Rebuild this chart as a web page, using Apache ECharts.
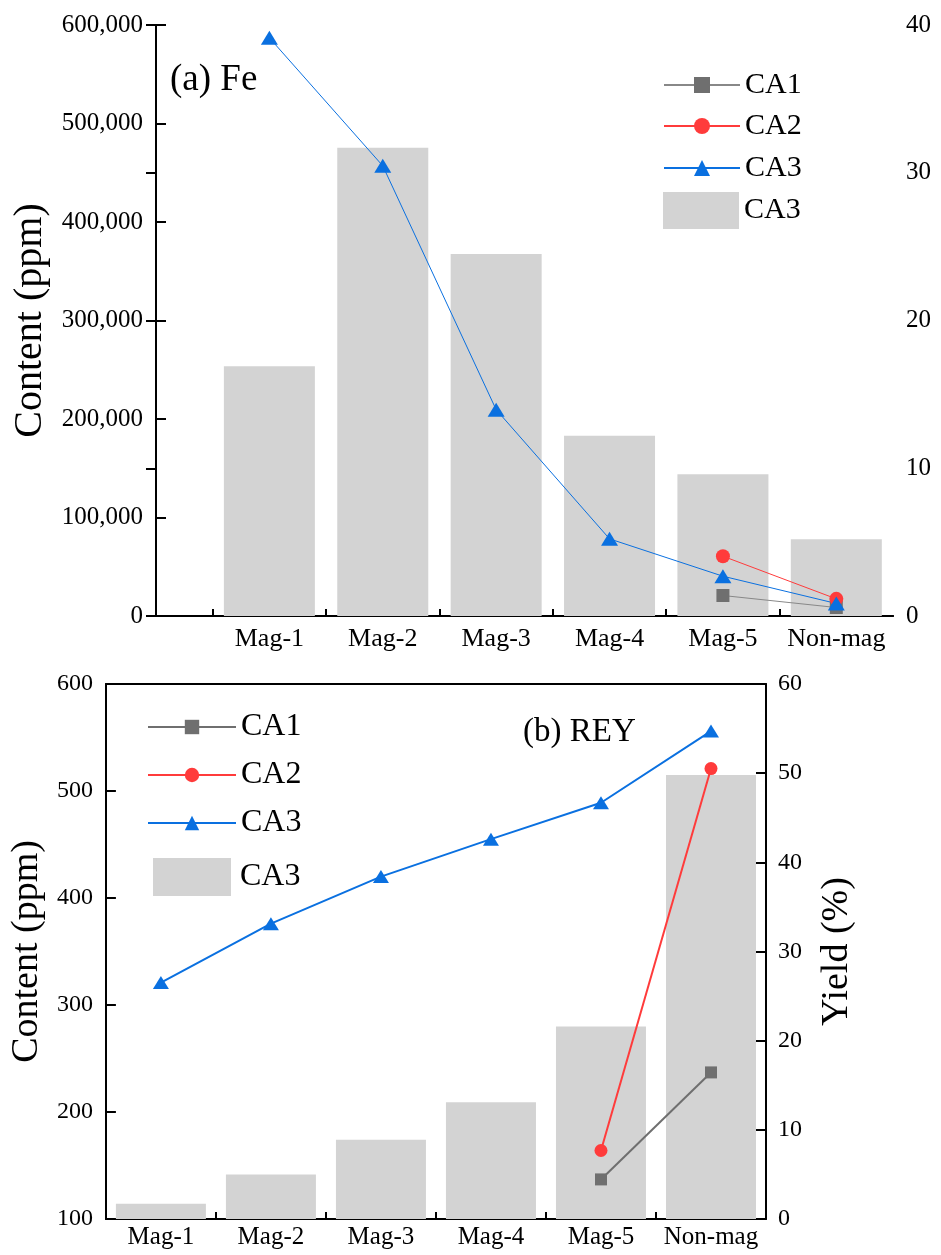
<!DOCTYPE html>
<html>
<head>
<meta charset="utf-8">
<script src="https://cdn.jsdelivr.net/npm/echarts@6/dist/echarts.min.js"></script>
<style>
  html, body { margin: 0; padding: 0; background: #fff; }
  #main { width: 941px; height: 1255px; }
</style>
</head>
<body>
<div id="main"></div>
<script>
// categories
var cats = ['Mag-1', 'Mag-2', 'Mag-3', 'Mag-4', 'Mag-5', 'Non-mag'];

// (a) Fe content (ppm) and yield (%)
var feCA1 = [null, null, null, null, 20800, 8600];
var feCA2 = [null, null, null, null, 60700, 17400];
var feCA3 = [587000, 457000, 209500, 78300, 40400, 12700];
var feYield = [16.9, 31.7, 24.5, 12.2, 9.6, 5.2];

// (b) REY content (ppm) and yield (%)
var reyCA1 = [null, null, null, null, 137, 237];
var reyCA2 = [null, null, null, null, 164, 521];
var reyCA3 = [321, 376, 420, 455, 489, 556];
var reyYield = [1.7, 5.0, 8.9, 13.1, 21.6, 49.8];

var FONT = 'Liberation Serif';
var GREY = '#6f6f6f', RED = '#ff3b3b', BLUE = '#0a70e0', BAR = '#d3d3d3';

// panel (a) uses a value x axis: category i sits at i+1, half a slot is left empty
function xy(arr) {
    var out = [];
    for (var i = 0; i < arr.length; i++) {
        if (arr[i] != null) out.push([i + 1, arr[i]]);
    }
    return out;
}
function stripName(n) { return n.split('|')[0]; }

var axisLineBlack = { show: true, lineStyle: { color: '#000', width: 2 } };
var tickIn = { show: true, inside: true, length: 10, lineStyle: { color: '#000', width: 2 } };
var noMinor = { show: false };

// one legend per row so each row sits where the reference puts it
function legendRow(name, left, top, w, h, size, pad, icon) {
    return {
        data: [icon ? { name: name, icon: icon } : name],
        left: left, top: top, itemWidth: w, itemHeight: h, itemGap: 0,
        formatter: stripName,
        textStyle: { fontSize: size, color: '#000', fontFamily: FONT, padding: [0, 0, 0, pad] }
    };
}

var chart = echarts.init(document.getElementById('main'));

var option = {
    animation: false,
    textStyle: { fontFamily: FONT, color: '#000' },
    title: [
        { text: '(a) Fe', left: 165, top: 57, textStyle: { fontFamily: FONT, fontSize: 37, fontWeight: 'normal', color: '#000' } },
        { text: '(b) REY', left: 518, top: 711, textStyle: { fontFamily: FONT, fontSize: 33, fontWeight: 'normal', color: '#000' } }
    ],
    grid: [
        { left: 156, top: 25, width: 737, height: 591 },
        { left: 105, top: 684, width: 661, height: 535 }
    ],
    xAxis: [
        {   // (a) bottom
            gridIndex: 0, type: 'value', min: 0, max: 6.5,
            axisLine: axisLineBlack,
            axisTick: { show: true, inside: true, length: 7, customValues: [0.5, 1.5, 2.5, 3.5, 4.5, 5.5], lineStyle: { color: '#000', width: 2 } },
            axisLabel: { customValues: [1, 2, 3, 4, 5, 6], formatter: function (v) { return cats[v - 1]; }, fontSize: 26, color: '#000', margin: 10, fontFamily: FONT },
            minorTick: noMinor, splitLine: { show: false }
        },
        {   // (a) top frame
            gridIndex: 0, type: 'value', position: 'top', min: 0, max: 1,
            axisLine: axisLineBlack, axisTick: { show: false }, axisLabel: { show: false }, minorTick: noMinor, splitLine: { show: false }
        },
        {   // (b) bottom
            gridIndex: 1, type: 'category', data: cats, boundaryGap: true,
            axisLine: axisLineBlack,
            axisTick: { show: true, inside: true, length: 7, lineStyle: { color: '#000', width: 2 } },
            axisLabel: { interval: 0, hideOverlap: false, fontSize: 25, color: '#000', margin: 6, fontFamily: FONT }
        },
        {   // (b) top frame
            gridIndex: 1, type: 'value', position: 'top', min: 0, max: 1,
            axisLine: axisLineBlack, axisTick: { show: false }, axisLabel: { show: false }, minorTick: noMinor, splitLine: { show: false }
        }
    ],
    yAxis: [
        {   // (a) content
            gridIndex: 0, type: 'value', min: 0, max: 600000, interval: 100000,
            name: 'Content (ppm)', nameLocation: 'middle', nameGap: 101,
            nameTextStyle: { fontSize: 40, color: '#000', fontFamily: FONT },
            axisLine: axisLineBlack, axisTick: tickIn, minorTick: noMinor,
            axisLabel: { fontSize: 25, color: '#000', margin: 13, fontFamily: FONT,
                formatter: function (v) { return v.toLocaleString('en-US'); } },
            splitLine: { show: false }
        },
        {   // (a) yield
            gridIndex: 0, type: 'value', position: 'right', min: 0, max: 40, interval: 10,
            axisLine: axisLineBlack, axisTick: tickIn, minorTick: noMinor,
            axisLabel: { fontSize: 25, color: '#000', margin: 13, fontFamily: FONT },
            splitLine: { show: false }
        },
        {   // (b) content
            gridIndex: 1, type: 'value', min: 100, max: 600, interval: 100,
            name: 'Content (ppm)', nameLocation: 'middle', nameGap: 43,
            nameTextStyle: { fontSize: 38, color: '#000', fontFamily: FONT },
            axisLine: axisLineBlack, axisTick: tickIn, minorTick: noMinor,
            axisLabel: { fontSize: 24, color: '#000', margin: 13, fontFamily: FONT },
            splitLine: { show: false }
        },
        {   // (b) yield
            gridIndex: 1, type: 'value', position: 'right', min: 0, max: 60, interval: 10,
            name: 'Yield (%)', nameLocation: 'middle', nameGap: 52,
            nameTextStyle: { fontSize: 38, color: '#000', fontFamily: FONT },
            axisLine: axisLineBlack, axisTick: tickIn, minorTick: noMinor,
            axisLabel: { fontSize: 24, color: '#000', margin: 12, fontFamily: FONT },
            splitLine: { show: false }
        }
    ],
    legend: [
        legendRow('CA1|a', 658, 65, 76, 20, 30, 0),
        legendRow('CA2|a', 658, 106, 76, 20, 30, 0),
        legendRow('CA3|a', 658, 148, 76, 20, 30, 0),
        legendRow('CA3|ay', 658, 187, 76, 37, 30, 0, 'rect'),
        legendRow('CA1|b', 142, 706, 88, 18, 32, 0),
        legendRow('CA2|b', 142, 754, 88, 18, 32, 0),
        legendRow('CA3|b', 142, 802, 88, 18, 32, 0),
        legendRow('CA3|by', 148, 853, 78, 38, 32, 4, 'rect')
    ],
    series: [
        // (a)
        { name: 'CA3|ay', type: 'bar', xAxisIndex: 0, yAxisIndex: 1, data: xy(feYield), barWidth: 91, itemStyle: { color: BAR }, z: 1 },
        { name: 'CA1|a', type: 'line', xAxisIndex: 0, yAxisIndex: 0, data: xy(feCA1), symbol: 'rect', symbolSize: 13,
          itemStyle: { color: GREY }, lineStyle: { color: '#888', width: 1 } },
        { name: 'CA2|a', type: 'line', xAxisIndex: 0, yAxisIndex: 0, data: xy(feCA2), symbol: 'circle', symbolSize: 14,
          itemStyle: { color: RED }, lineStyle: { color: RED, width: 1 } },
        { name: 'CA3|a', type: 'line', xAxisIndex: 0, yAxisIndex: 0, data: xy(feCA3), symbol: 'triangle', symbolSize: [17, 14],
          itemStyle: { color: BLUE }, lineStyle: { color: BLUE, width: 1 } },
        // (b)
        { name: 'CA3|by', type: 'bar', xAxisIndex: 2, yAxisIndex: 3, data: reyYield, barWidth: 90, itemStyle: { color: BAR }, z: 1 },
        { name: 'CA1|b', type: 'line', xAxisIndex: 2, yAxisIndex: 2, data: reyCA1, symbol: 'rect', symbolSize: 12,
          itemStyle: { color: GREY }, lineStyle: { color: GREY, width: 2 } },
        { name: 'CA2|b', type: 'line', xAxisIndex: 2, yAxisIndex: 2, data: reyCA2, symbol: 'circle', symbolSize: 13,
          itemStyle: { color: RED }, lineStyle: { color: RED, width: 2 } },
        { name: 'CA3|b', type: 'line', xAxisIndex: 2, yAxisIndex: 2, data: reyCA3, symbol: 'triangle', symbolSize: [16, 13],
          itemStyle: { color: BLUE }, lineStyle: { color: BLUE, width: 2 } }
    ]
};

chart.setOption(option);
</script>
</body>
</html>
